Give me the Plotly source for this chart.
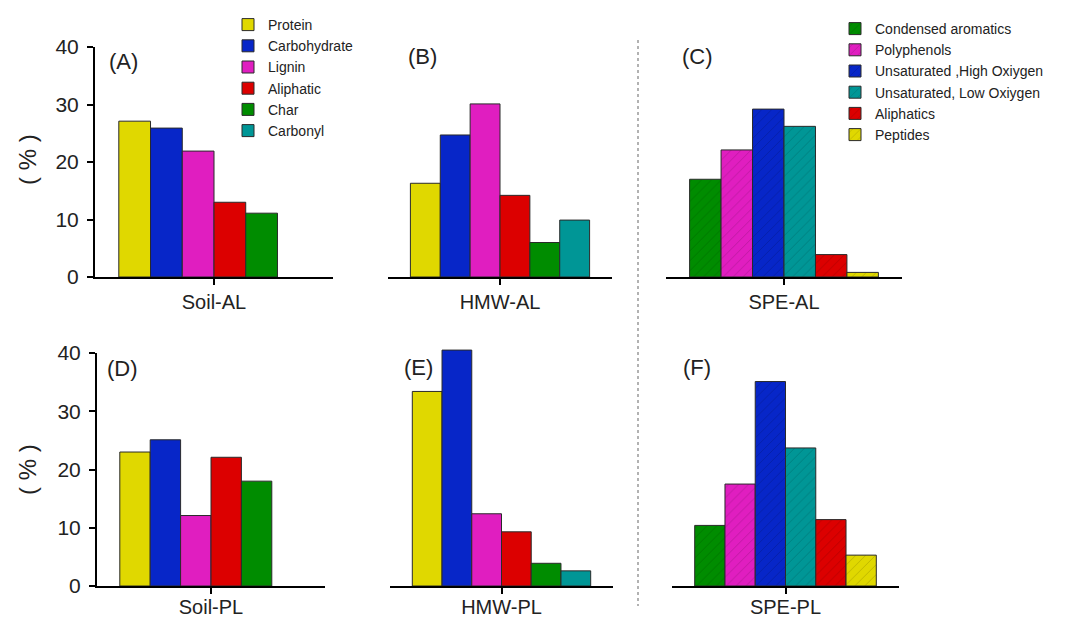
import plotly.graph_objects as go

W, H = 1073, 620

# ---------------- data ----------------
categories = ["Soil-AL", "HMW-AL", "SPE-AL", "Soil-PL", "HMW-PL", "SPE-PL"]
panel_labels = ["(A)", "(B)", "(C)", "(D)", "(E)", "(F)"]

nmr_series = ["Protein", "Carbohydrate", "Lignin", "Aliphatic", "Char", "Carbonyl"]
nmr_colors = ["#E0D800", "#0726C8", "#E01EC0", "#DC0000", "#008C00", "#009696"]

ms_series = ["Condensed aromatics", "Polyphenols", "Unsaturated ,High Oxiygen",
             "Unsaturated, Low Oxiygen", "Aliphatics", "Peptides"]
ms_colors = ["#008C00", "#E01EC0", "#0726C8", "#009696", "#DC0000", "#E0D800"]

soil_al = [27.1, 25.9, 21.9, 13.0, 11.1, None]
hmw_al = [16.3, 24.7, 30.1, 14.2, 6.0, 9.9]
spe_al = [17.0, 22.1, 29.2, 26.2, 3.9, 0.8]
soil_pl = [23.0, 25.1, 12.1, 22.1, 18.0, None]
hmw_pl = [33.4, 40.5, 12.4, 9.3, 3.9, 2.6]
spe_pl = [10.4, 17.5, 35.1, 23.7, 11.4, 5.3]

y_ticks = [0, 10, 20, 30, 40]

panel_values = [soil_al, hmw_al, spe_al, soil_pl, hmw_pl, spe_pl]
panel_hatched = [False, False, True, False, False, True]

# ---------------- layout geometry (pixels) ----------------
# x0, x1, zero_px, top_px, ymax, show_y, label standoff
geom = [
    (95, 333, 277, 47, 40, True, 0),
    (388, 612, 277, 47, 40, False, 0),
    (666, 902, 277, 47, 40, False, 0),
    (97, 325, 586, 353, 40, True, -4),
    (390, 613, 586, 586 - 41 * 5.825, 41, False, -4),
    (672, 899, 586, 353, 40, False, -4),
]
label_pos = [(123, 62), (422, 57), (697, 57), (122, 368), (418, 367), (697, 367)]

FONT = "Liberation Sans, Arial, sans-serif"


def px(x):
    return x / W


def py(y):
    return 1 - y / H


fig = go.Figure()
layout = dict(
    width=W, height=H,
    margin=dict(l=0, r=0, t=0, b=0, autoexpand=False),
    paper_bgcolor="white", plot_bgcolor="white",
    font=dict(family=FONT, color="#222"),
    barmode="group", bargap=0.2, bargroupgap=0,
    showlegend=True,
)

for i, cat in enumerate(categories):
    n = "" if i == 0 else str(i + 1)
    xa, ya = "x" + n, "y" + n
    hatched = panel_hatched[i]
    names = ms_series if hatched else nmr_series
    colors = ms_colors if hatched else nmr_colors
    legend = "legend2" if hatched else "legend"
    first = (i == 1) or (i == 2)
    for j, (name, color) in enumerate(zip(names, colors)):
        marker = dict(color=color, line=dict(color="#2a2a2a", width=1))
        if hatched:
            marker["pattern"] = dict(shape="/", fgcolor="rgba(0,0,0,0.35)",
                                     size=7, solidity=0.12, fillmode="overlay")
        fig.add_trace(go.Bar(
            x=[cat], y=[panel_values[i][j]], name=name,
            marker=marker, xaxis=xa, yaxis=ya,
            legend=legend, legendgroup=name + str(hatched), showlegend=first,
            offsetgroup=str(j),
        ))

    x0, x1, zero, top, ymax, show_y, standoff = geom[i]
    layout["xaxis" + n] = dict(
        domain=[px(x0), px(x1)], anchor=ya, type="category",
        range=[-0.5, 0.5], showline=True, linecolor="black", linewidth=2,
        ticks="outside", ticklen=6, tickwidth=2, tickcolor="black",
        ticklabelstandoff=standoff,
        tickfont=dict(size=20, family=FONT, color="#222"),
        showgrid=False, zeroline=False, fixedrange=True,
    )
    layout["yaxis" + n] = dict(
        domain=[py(zero), py(top)], anchor=xa, range=[0, ymax],
        showline=show_y, linecolor="black", linewidth=2,
        ticks="outside" if show_y else "", ticklen=6, tickwidth=2,
        tickcolor="black", tickvals=y_ticks, showticklabels=show_y,
        ticklabelstandoff=4,
        tickfont=dict(size=21, family=FONT, color="#222"),
        showgrid=False, zeroline=False, fixedrange=True,
    )

annotations = []
for lab, (lx, ly) in zip(panel_labels, label_pos):
    annotations.append(dict(text=lab, x=px(lx), y=py(ly), xref="paper", yref="paper",
                            xanchor="center", yanchor="middle",
                            showarrow=False, font=dict(size=22, family=FONT, color="#222")))
for yy in (160, 470):
    annotations.append(dict(text="( % )", x=px(27), y=py(yy), xref="paper", yref="paper",
                            xanchor="center", yanchor="middle",
                            showarrow=False, textangle=-90,
                            font=dict(size=24, family=FONT, color="#222")))
layout["annotations"] = annotations

layout["shapes"] = [dict(type="line", xref="paper", yref="paper",
                         x0=px(638), x1=px(638), y0=py(40), y1=py(606),
                         line=dict(color="#999", width=1.5, dash="dot"))]

layout["legend"] = dict(x=px(228), y=py(9), xanchor="left", yanchor="top",
                        font=dict(size=14, family=FONT, color="#222"),
                        bgcolor="rgba(0,0,0,0)", tracegroupgap=0, itemwidth=30)
layout["legend2"] = dict(x=px(835), y=py(13), xanchor="left", yanchor="top",
                         font=dict(size=14, family=FONT, color="#222"),
                         bgcolor="rgba(0,0,0,0)", tracegroupgap=0, itemwidth=30)

fig.update_layout(**layout)
fig.write_html("out.html")
